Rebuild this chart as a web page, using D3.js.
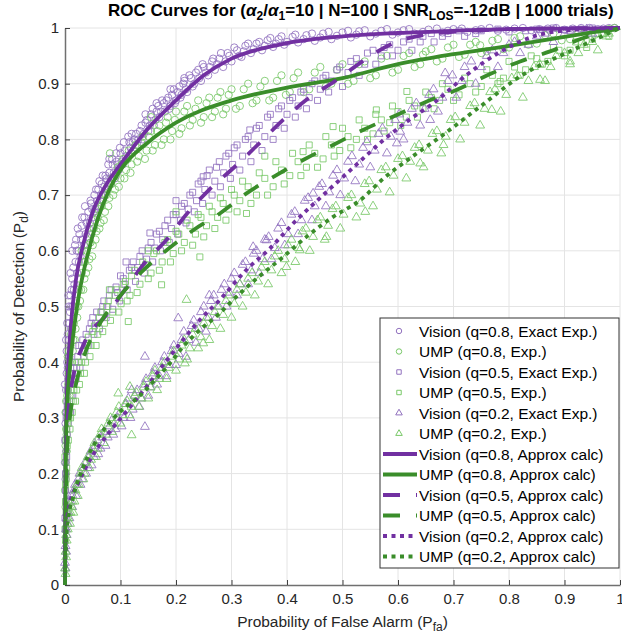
<!DOCTYPE html>
<html>
<head>
<meta charset="utf-8">
<script src="https://cdn.jsdelivr.net/npm/d3@7"></script>
<style>
  body { margin: 0; background: #fff; }
  text { font-family: "Liberation Sans", Arial, Helvetica, sans-serif; }
</style>
</head>
<body>
<div id="chart"></div>
<script>
// ---- data ----
var xTicks = [0, 0.1, 0.2, 0.3, 0.4, 0.5, 0.6, 0.7, 0.8, 0.9, 1];
var yTicks = [0, 0.1, 0.2, 0.3, 0.4, 0.5, 0.6, 0.7, 0.8, 0.9, 1];

// experiments, [Pfa, Pd]
var visionQ8Exp = [[0.001,0.19],[0.002,0.24],[0.001,0.29],[0.003,0.31],[0.002,0.35],[0.004,0.33],[0.005,0.39],[0.003,0.42],[0.006,0.37],[0.007,0.44],[0.004,0.47],[0.008,0.41],[0.009,0.49],[0.006,0.52],[0.011,0.46],[0.012,0.53],[0.010,0.56],[0.014,0.50],[0.015,0.57],[0.017,0.54],[0.013,0.60],[0.019,0.58],[0.02,0.62],[0.022,0.56],
  [0.024,0.60],[0.026,0.63],[0.028,0.59],[0.03,0.645],[0.032,0.62],[0.035,0.66],[0.037,0.63],[0.04,0.625],[0.042,0.67],[0.045,0.65],[0.047,0.685],[0.05,0.66],[0.053,0.70],[0.055,0.675],[0.058,0.69],[0.06,0.71],[0.063,0.68],[0.066,0.72],[0.07,0.70],[0.073,0.735],[0.076,0.71],[0.08,0.74],[0.083,0.72],[0.086,0.755],[0.09,0.73],[0.093,0.76],[0.097,0.745],[0.1,0.775],[0.104,0.755],[0.108,0.78],[0.112,0.765],[0.116,0.795],[0.12,0.775],[0.125,0.80],[0.13,0.79],[0.135,0.815],[0.14,0.80],[0.145,0.83],[0.15,0.815],[0.155,0.845],[0.16,0.825],[0.165,0.85],[0.17,0.84],[0.175,0.87],[0.18,0.85],[0.186,0.875],[0.19,0.86],[0.196,0.89],[0.2,0.87],[0.206,0.895],[0.21,0.88],[0.215,0.905],[0.22,0.885],[0.227,0.91],[0.233,0.9],[0.24,0.925],[0.245,0.905],[0.25,0.93],[0.258,0.915],[0.265,0.94],[0.27,0.925],[0.278,0.945],[0.285,0.93],[0.293,0.955],[0.3,0.94],[0.31,0.96],[0.318,0.948],[0.325,0.968],[0.335,0.955],[0.345,0.972],[0.355,0.96],[0.365,0.978],[0.375,0.966],[0.385,0.98],[0.395,0.97],[0.41,0.984],[0.42,0.974],[0.435,0.987],[0.45,0.977],[0.465,0.99],[0.48,0.98],[0.5,0.992],[0.515,0.983],[0.53,0.994],[0.55,0.985],[0.57,0.995],[0.59,0.988],[0.61,0.996],[0.63,0.99],[0.655,0.997],[0.68,0.992],[0.7,0.998],[0.725,0.993],[0.75,0.998],[0.78,0.995],[0.81,0.999],[0.84,0.996],[0.87,0.999],[0.9,0.997],[0.93,1.0],[0.96,0.998],[0.98,1.0],
  [0.19,0.89],[0.215,0.91],[0.165,0.865],[0.145,0.845],[0.12,0.81],[0.08,0.765],
  [0.0,0.22],[0.001,0.26],[0.002,0.31],[0.0,0.36],[0.003,0.38],[0.002,0.44],[0.004,0.40],[0.005,0.45],[0.007,0.5],[0.008,0.47],[0.01,0.52],[0.011,0.5],[0.013,0.55],[0.016,0.53],[0.018,0.61],[0.021,0.6],[0.023,0.64],[0.025,0.58],[0.029,0.62],[0.031,0.66],[0.034,0.61],[0.036,0.68],[0.039,0.65],[0.043,0.64],[0.046,0.69],[0.049,0.675],[0.052,0.67],[0.056,0.71],[0.059,0.68],[0.062,0.725],[0.065,0.7],[0.068,0.735],[0.071,0.715],[0.075,0.73],[0.078,0.755],[0.082,0.73],[0.085,0.765],[0.088,0.74],[0.092,0.775],[0.095,0.755],[0.099,0.785],[0.102,0.76],[0.106,0.795],[0.11,0.77],[0.114,0.805],[0.118,0.785],[0.122,0.795],[0.128,0.81],[0.132,0.8],[0.138,0.825],[0.142,0.81],[0.148,0.835],[0.153,0.825],[0.158,0.855],[0.163,0.835],[0.168,0.86],[0.173,0.85],[0.178,0.865],[0.183,0.87],[0.188,0.855],[0.193,0.88],[0.198,0.865],[0.203,0.885],[0.208,0.875],[0.213,0.9],[0.218,0.89],[0.224,0.915],[0.23,0.895],[0.236,0.92],[0.242,0.91],[0.248,0.935],[0.254,0.92],[0.261,0.93],[0.267,0.945],[0.274,0.935],[0.281,0.955],[0.289,0.94],[0.296,0.95],[0.305,0.965],[0.314,0.95],[0.322,0.958],[0.33,0.972],[0.34,0.962],[0.35,0.975],[0.36,0.968],[0.37,0.982],[0.38,0.972],[0.39,0.985],[0.4,0.975],[0.415,0.988],[0.43,0.98],[0.445,0.99],[0.46,0.983],[0.475,0.993],[0.49,0.986],[0.51,0.995],[0.525,0.988],[0.54,0.996],[0.56,0.99],[0.58,0.998],[0.6,0.992],[0.62,0.998],[0.645,0.993],[0.67,0.999],[0.69,0.995],[0.715,0.999],[0.74,0.996],[0.765,1.0],[0.795,0.997],[0.825,1.0],[0.855,0.998],[0.885,1.0],[0.915,0.999],[0.945,1.0],[0.97,0.999],[0.99,1.0]];

var umpQ8Exp = [[0.001,0.14],[0.002,0.2],[0.001,0.25],[0.003,0.27],[0.004,0.3],[0.002,0.33],[0.005,0.35],[0.006,0.32],[0.007,0.38],[0.005,0.41],[0.009,0.37],[0.01,0.43],[0.012,0.40],[0.013,0.46],[0.015,0.44],[0.017,0.49],[0.019,0.46],[0.02,0.51],[0.022,0.48],[0.025,0.53],[0.027,0.51],[0.03,0.56],[0.033,0.53],[0.036,0.58],[0.038,0.56],[0.041,0.61],[0.044,0.585],[0.047,0.63],[0.05,0.61],[0.053,0.655],[0.057,0.635],[0.06,0.675],[0.064,0.65],[0.068,0.69],[0.072,0.67],[0.076,0.715],[0.08,0.695],[0.085,0.73],[0.09,0.71],[0.095,0.75],[0.1,0.73],[0.105,0.765],[0.11,0.745],[0.115,0.78],[0.12,0.755],[0.127,0.79],[0.133,0.77],[0.14,0.805],[0.147,0.78],[0.155,0.815],[0.162,0.79],[0.17,0.825],[0.178,0.8],[0.185,0.84],[0.193,0.815],[0.2,0.85],[0.21,0.82],[0.22,0.86],[0.23,0.835],[0.24,0.87],[0.25,0.84],[0.26,0.875],[0.27,0.85],[0.28,0.885],[0.29,0.855],[0.3,0.89],[0.315,0.86],[0.33,0.9],[0.345,0.87],[0.36,0.905],[0.375,0.875],[0.39,0.915],[0.405,0.885],[0.42,0.92],[0.44,0.89],[0.46,0.93],[0.48,0.9],[0.5,0.935],[0.52,0.905],[0.54,0.94],[0.56,0.915],[0.58,0.95],[0.6,0.925],[0.62,0.955],[0.64,0.935],[0.66,0.962],[0.68,0.945],[0.7,0.97],[0.72,0.952],[0.74,0.975],[0.76,0.958],[0.78,0.98],[0.8,0.965],[0.82,0.985],[0.85,0.972],[0.88,0.99],[0.91,0.98],[0.94,0.995],[0.97,0.99],[0.99,1.0],
  [0.081,0.775],[0.03,0.6],[0.155,0.84],[0.645,0.952],[0.748,0.969],
  [0.0,0.17],[0.001,0.22],[0.002,0.28],[0.003,0.24],[0.001,0.31],[0.004,0.34],[0.006,0.36],[0.008,0.34],[0.007,0.42],[0.009,0.4],[0.011,0.45],[0.014,0.42],[0.016,0.47],[0.018,0.44],[0.021,0.5],[0.024,0.5],[0.026,0.55],[0.029,0.53],[0.032,0.58],[0.035,0.55],[0.039,0.6],[0.042,0.57],[0.046,0.615],[0.049,0.59],[0.052,0.64],[0.055,0.62],[0.059,0.66],[0.062,0.64],[0.066,0.68],[0.07,0.655],[0.074,0.7],[0.078,0.68],[0.083,0.72],[0.087,0.7],[0.092,0.735],[0.097,0.715],[0.102,0.755],[0.107,0.73],[0.113,0.765],[0.118,0.74],[0.124,0.78],[0.13,0.76],[0.137,0.795],[0.144,0.765],[0.151,0.805],[0.158,0.78],[0.166,0.815],[0.174,0.79],[0.182,0.83],[0.19,0.8],[0.198,0.835],[0.206,0.81],[0.215,0.85],[0.225,0.825],[0.235,0.855],[0.245,0.83],[0.255,0.865],[0.265,0.84],[0.275,0.875],[0.285,0.845],[0.295,0.88],[0.308,0.855],[0.322,0.89],[0.338,0.865],[0.352,0.895],[0.368,0.87],[0.382,0.905],[0.398,0.88],[0.412,0.91],[0.43,0.885],[0.45,0.92],[0.47,0.895],[0.49,0.925],[0.51,0.9],[0.53,0.935],[0.55,0.91],[0.57,0.945],[0.59,0.92],[0.61,0.95],[0.63,0.93],[0.65,0.958],[0.67,0.94],[0.69,0.965],[0.71,0.948],[0.73,0.97],[0.75,0.955],[0.77,0.977],[0.79,0.962],[0.81,0.982],[0.835,0.97],[0.865,0.987],[0.895,0.978],[0.925,0.993],[0.955,0.988],[0.98,0.998]];

var visionQ5Exp = [[0.001,0.1],[0.002,0.15],[0.001,0.2],[0.003,0.23],[0.004,0.27],[0.002,0.3],[0.006,0.29],[0.008,0.33],[0.005,0.35],[0.01,0.31],[0.012,0.36],[0.014,0.34],[0.016,0.39],[0.02,0.37],[0.023,0.41],[0.027,0.39],[0.03,0.43],[0.034,0.41],[0.038,0.45],[0.042,0.43],[0.047,0.47],[0.052,0.45],[0.057,0.49],[0.062,0.46],[0.068,0.5],[0.074,0.48],[0.08,0.52],[0.086,0.495],[0.092,0.535],[0.098,0.51],[0.105,0.55],[0.112,0.53],[0.12,0.57],[0.127,0.545],[0.135,0.59],[0.143,0.56],[0.15,0.605],[0.158,0.58],[0.165,0.63],[0.172,0.6],[0.18,0.645],[0.188,0.615],[0.195,0.665],[0.203,0.63],[0.21,0.68],[0.218,0.65],[0.225,0.7],[0.233,0.67],[0.24,0.72],[0.248,0.685],[0.256,0.735],[0.265,0.7],[0.273,0.75],[0.28,0.715],[0.29,0.77],[0.298,0.73],[0.305,0.785],[0.315,0.745],[0.325,0.8],[0.335,0.76],[0.345,0.82],[0.355,0.78],[0.365,0.84],[0.375,0.8],[0.385,0.855],[0.395,0.82],[0.405,0.87],[0.415,0.84],[0.425,0.885],[0.435,0.855],[0.445,0.9],[0.455,0.87],[0.465,0.91],[0.475,0.885],[0.49,0.925],[0.5,0.895],[0.515,0.94],[0.53,0.915],[0.545,0.955],[0.56,0.935],[0.575,0.965],[0.59,0.95],[0.61,0.975],[0.625,0.96],[0.645,0.985],[0.665,0.975],[0.69,0.99],[0.72,0.985],[0.75,0.995],[0.8,0.993],[0.85,0.998],[0.9,0.997],[0.95,1.0],
  [0.153,0.632],[0.249,0.733],[0.333,0.817],[0.2,0.69],[0.11,0.58],
  [0.0,0.12],[0.001,0.17],[0.002,0.22],[0.0,0.26],[0.003,0.28],[0.004,0.32],[0.007,0.31],[0.009,0.36],[0.011,0.34],[0.013,0.38],[0.018,0.4],[0.021,0.39],[0.025,0.43],[0.032,0.44],[0.036,0.42],[0.044,0.46],[0.05,0.48],[0.055,0.47],[0.065,0.49],[0.07,0.51],[0.077,0.5],[0.083,0.53],[0.095,0.525],[0.1,0.555],[0.108,0.54],[0.116,0.565],[0.123,0.58],[0.131,0.57],[0.139,0.6],[0.147,0.585],[0.155,0.615],[0.162,0.605],[0.17,0.635],[0.176,0.62],[0.185,0.655],[0.192,0.64],[0.2,0.665],[0.208,0.655],[0.215,0.685],[0.222,0.675],[0.23,0.705],[0.237,0.69],[0.245,0.725],[0.252,0.71],[0.26,0.745],[0.27,0.725],[0.278,0.76],[0.286,0.74],[0.295,0.775],[0.302,0.755],[0.31,0.79],[0.32,0.77],[0.33,0.805],[0.34,0.79],[0.35,0.825],[0.36,0.805],[0.37,0.845],[0.38,0.825],[0.39,0.86],[0.4,0.845],[0.41,0.875],[0.42,0.86],[0.43,0.89],[0.44,0.875],[0.45,0.905],[0.46,0.89],[0.47,0.915],[0.48,0.905],[0.495,0.93],[0.51,0.92],[0.525,0.945],[0.54,0.935],[0.555,0.96],[0.57,0.95],[0.585,0.97],[0.6,0.96],[0.62,0.98],[0.64,0.975],[0.66,0.99],[0.68,0.985],[0.71,0.995],[0.74,0.99],[0.78,0.998],[0.83,0.995],[0.88,1.0],[0.93,0.998]];

var umpQ5Exp = [[0.001,0.08],[0.002,0.13],[0.001,0.18],[0.003,0.21],[0.004,0.25],[0.003,0.28],[0.006,0.26],[0.007,0.3],[0.009,0.28],[0.011,0.33],[0.013,0.31],[0.016,0.35],[0.019,0.33],[0.022,0.38],[0.026,0.36],[0.03,0.4],[0.035,0.38],[0.04,0.43],[0.045,0.41],[0.05,0.455],[0.056,0.43],[0.062,0.48],[0.068,0.455],[0.075,0.5],[0.082,0.475],[0.09,0.52],[0.097,0.49],[0.105,0.54],[0.112,0.51],[0.12,0.555],[0.13,0.525],[0.14,0.58],[0.15,0.55],[0.16,0.595],[0.17,0.565],[0.18,0.615],[0.19,0.58],[0.2,0.635],[0.21,0.6],[0.22,0.655],[0.23,0.61],[0.24,0.665],[0.25,0.625],[0.26,0.68],[0.27,0.64],[0.28,0.695],[0.29,0.655],[0.3,0.71],[0.31,0.67],[0.32,0.725],[0.335,0.685],[0.35,0.74],[0.365,0.7],[0.38,0.76],[0.395,0.72],[0.41,0.775],[0.425,0.735],[0.44,0.79],[0.455,0.75],[0.47,0.805],[0.485,0.77],[0.5,0.82],[0.515,0.785],[0.53,0.835],[0.545,0.8],[0.56,0.845],[0.575,0.815],[0.59,0.86],[0.605,0.825],[0.62,0.87],[0.635,0.84],[0.65,0.885],[0.665,0.855],[0.68,0.9],[0.7,0.87],[0.72,0.91],[0.74,0.885],[0.76,0.925],[0.78,0.9],[0.8,0.94],[0.82,0.915],[0.84,0.95],[0.86,0.935],[0.88,0.965],[0.9,0.95],[0.92,0.975],[0.94,0.965],[0.96,0.99],[0.98,0.985],
  [0.243,0.589],[0.174,0.539],[0.114,0.473],[0.327,0.667],[0.616,0.886],[0.483,0.823],[0.429,0.778],[0.784,0.904],[0.561,0.853],[0.15,0.6],[0.08,0.53],[0.2,0.67],[0.36,0.77],
  [0.0,0.1],[0.001,0.15],[0.002,0.19],[0.0,0.23],[0.002,0.26],[0.005,0.29],[0.008,0.32],[0.01,0.3],[0.012,0.35],[0.015,0.33],[0.018,0.37],[0.021,0.35],[0.024,0.4],[0.028,0.38],[0.032,0.42],[0.037,0.4],[0.042,0.445],[0.047,0.43],[0.053,0.465],[0.059,0.45],[0.065,0.49],[0.071,0.47],[0.078,0.51],[0.086,0.49],[0.093,0.53],[0.101,0.505],[0.109,0.545],[0.117,0.52],[0.125,0.565],[0.135,0.54],[0.145,0.575],[0.155,0.56],[0.165,0.6],[0.175,0.58],[0.185,0.62],[0.195,0.595],[0.205,0.63],[0.215,0.615],[0.225,0.645],[0.235,0.63],[0.245,0.66],[0.255,0.645],[0.265,0.67],[0.275,0.66],[0.285,0.685],[0.295,0.675],[0.305,0.7],[0.315,0.69],[0.33,0.715],[0.345,0.7],[0.36,0.73],[0.375,0.715],[0.39,0.745],[0.405,0.735],[0.42,0.76],[0.435,0.75],[0.45,0.775],[0.465,0.765],[0.48,0.79],[0.495,0.78],[0.51,0.805],[0.525,0.8],[0.54,0.82],[0.555,0.81],[0.57,0.835],[0.585,0.83],[0.6,0.85],[0.615,0.84],[0.63,0.86],[0.645,0.855],[0.66,0.875],[0.675,0.87],[0.69,0.89],[0.71,0.88],[0.73,0.9],[0.75,0.895],[0.77,0.915],[0.79,0.91],[0.81,0.93],[0.83,0.925],[0.85,0.945],[0.87,0.94],[0.89,0.96],[0.91,0.96],[0.93,0.975],[0.95,0.98],[0.97,0.99]];

var visionQ2Exp = [[0.001,0.03],[0.002,0.06],[0.003,0.09],[0.005,0.11],[0.004,0.13],[0.008,0.12],[0.01,0.15],[0.013,0.14],[0.016,0.17],[0.02,0.16],[0.024,0.19],[0.028,0.18],[0.033,0.21],[0.038,0.2],[0.043,0.23],[0.048,0.215],[0.055,0.25],[0.06,0.235],[0.067,0.265],[0.073,0.25],[0.08,0.285],[0.087,0.27],[0.095,0.3],[0.102,0.285],[0.11,0.325],[0.118,0.3],[0.126,0.34],[0.134,0.32],[0.142,0.36],[0.15,0.34],[0.158,0.38],[0.166,0.36],[0.175,0.4],[0.183,0.375],[0.192,0.42],[0.2,0.395],[0.21,0.44],[0.218,0.41],[0.228,0.465],[0.236,0.435],[0.245,0.49],[0.254,0.455],[0.263,0.51],[0.272,0.48],[0.282,0.53],[0.291,0.5],[0.3,0.55],[0.31,0.52],[0.32,0.575],[0.33,0.54],[0.34,0.595],[0.35,0.56],[0.36,0.62],[0.372,0.585],[0.384,0.64],[0.396,0.61],[0.408,0.665],[0.42,0.63],[0.432,0.69],[0.445,0.655],[0.458,0.715],[0.47,0.68],[0.483,0.735],[0.496,0.7],[0.51,0.76],[0.523,0.725],[0.537,0.785],[0.55,0.75],[0.565,0.81],[0.58,0.775],[0.595,0.835],[0.61,0.8],[0.625,0.855],[0.64,0.825],[0.656,0.88],[0.672,0.85],[0.69,0.905],[0.705,0.875],[0.72,0.93],[0.74,0.9],[0.76,0.95],[0.78,0.93],[0.8,0.97],[0.82,0.955],[0.85,0.985],[0.88,0.975],[0.91,0.995],[0.95,0.99],
  [0.204,0.479],[0.144,0.41],[0.144,0.284],[0.339,0.607],[0.363,0.619],[0.447,0.703],[0.685,0.919],[0.658,0.835],[0.604,0.814],[0.598,0.793],[0.26,0.52],[0.12,0.35],
  [0.0,0.04],[0.001,0.07],[0.002,0.1],[0.003,0.12],[0.006,0.13],[0.007,0.15],[0.011,0.16],[0.014,0.16],[0.018,0.18],[0.022,0.18],[0.026,0.2],[0.031,0.19],[0.036,0.22],[0.041,0.21],[0.046,0.24],[0.052,0.23],[0.058,0.26],[0.064,0.245],[0.07,0.275],[0.077,0.265],[0.084,0.295],[0.091,0.28],[0.099,0.31],[0.106,0.3],[0.114,0.335],[0.122,0.315],[0.13,0.35],[0.138,0.335],[0.146,0.37],[0.154,0.355],[0.162,0.39],[0.17,0.375],[0.179,0.41],[0.188,0.395],[0.196,0.43],[0.205,0.415],[0.214,0.455],[0.223,0.44],[0.232,0.475],[0.241,0.46],[0.25,0.5],[0.259,0.48],[0.268,0.52],[0.277,0.5],[0.287,0.54],[0.296,0.525],[0.305,0.56],[0.315,0.54],[0.325,0.58],[0.335,0.565],[0.345,0.6],[0.356,0.585],[0.367,0.625],[0.378,0.605],[0.39,0.65],[0.402,0.63],[0.414,0.67],[0.426,0.655],[0.438,0.695],[0.45,0.68],[0.463,0.72],[0.476,0.705],[0.49,0.745],[0.503,0.73],[0.517,0.77],[0.53,0.755],[0.544,0.795],[0.558,0.78],[0.572,0.82],[0.587,0.805],[0.602,0.845],[0.617,0.83],[0.633,0.865],[0.648,0.855],[0.664,0.89],[0.68,0.875],[0.698,0.915],[0.715,0.905],[0.732,0.94],[0.75,0.93],[0.77,0.96],[0.79,0.955],[0.81,0.975],[0.835,0.97],[0.865,0.99],[0.9,0.99],[0.94,0.998]];

var umpQ2Exp = [[0.001,0.02],[0.002,0.05],[0.003,0.08],[0.005,0.1],[0.006,0.12],[0.009,0.11],[0.012,0.14],[0.015,0.13],[0.019,0.17],[0.023,0.16],[0.028,0.2],[0.033,0.19],[0.038,0.22],[0.044,0.21],[0.05,0.245],[0.056,0.23],[0.063,0.27],[0.07,0.255],[0.078,0.29],[0.085,0.275],[0.093,0.31],[0.1,0.29],[0.108,0.325],[0.116,0.305],[0.125,0.34],[0.133,0.32],[0.142,0.355],[0.15,0.335],[0.158,0.375],[0.166,0.35],[0.175,0.39],[0.183,0.37],[0.192,0.41],[0.2,0.385],[0.21,0.43],[0.22,0.405],[0.23,0.45],[0.24,0.425],[0.25,0.47],[0.26,0.44],[0.27,0.49],[0.28,0.46],[0.29,0.51],[0.3,0.48],[0.31,0.53],[0.32,0.5],[0.33,0.55],[0.342,0.52],[0.354,0.57],[0.366,0.54],[0.378,0.59],[0.39,0.56],[0.402,0.61],[0.415,0.58],[0.428,0.635],[0.441,0.6],[0.455,0.655],[0.468,0.62],[0.482,0.675],[0.496,0.64],[0.51,0.695],[0.525,0.66],[0.54,0.72],[0.555,0.68],[0.57,0.745],[0.585,0.705],[0.6,0.765],[0.615,0.73],[0.63,0.785],[0.646,0.75],[0.662,0.81],[0.678,0.775],[0.695,0.835],[0.712,0.8],[0.73,0.86],[0.748,0.825],[0.766,0.885],[0.785,0.85],[0.805,0.91],[0.825,0.875],[0.845,0.93],[0.865,0.905],[0.885,0.95],[0.91,0.935],[0.935,0.97],[0.96,0.96],[0.98,0.99],
  [0.219,0.512],[0.216,0.398],[0.249,0.434],[0.096,0.344],[0.117,0.356],[0.12,0.269],[0.399,0.571],[0.423,0.601],[0.471,0.625],[0.541,0.67],[0.682,0.79],[0.64,0.757],[0.769,0.853],[0.91,0.94],[0.856,0.907],
  [0.0,0.03],[0.001,0.06],[0.002,0.09],[0.004,0.11],[0.007,0.13],[0.01,0.13],[0.013,0.15],[0.017,0.15],[0.021,0.18],[0.025,0.18],[0.03,0.21],[0.035,0.2],[0.041,0.23],[0.047,0.225],[0.053,0.255],[0.059,0.245],[0.066,0.28],[0.074,0.27],[0.082,0.3],[0.089,0.29],[0.097,0.32],[0.104,0.305],[0.112,0.33],[0.12,0.32],[0.129,0.345],[0.137,0.335],[0.146,0.365],[0.154,0.355],[0.162,0.385],[0.17,0.37],[0.179,0.4],[0.187,0.39],[0.196,0.42],[0.205,0.405],[0.215,0.44],[0.225,0.425],[0.235,0.46],[0.245,0.445],[0.255,0.48],[0.265,0.465],[0.275,0.5],[0.285,0.485],[0.295,0.52],[0.305,0.505],[0.315,0.54],[0.326,0.525],[0.337,0.56],[0.348,0.545],[0.36,0.58],[0.372,0.565],[0.384,0.6],[0.396,0.585],[0.408,0.62],[0.421,0.605],[0.434,0.64],[0.447,0.625],[0.46,0.66],[0.474,0.645],[0.488,0.68],[0.502,0.665],[0.516,0.7],[0.532,0.685],[0.548,0.725],[0.562,0.71],[0.578,0.75],[0.592,0.735],[0.608,0.77],[0.622,0.76],[0.638,0.79],[0.654,0.78],[0.67,0.815],[0.686,0.805],[0.703,0.84],[0.72,0.83],[0.738,0.865],[0.756,0.855],[0.775,0.89],[0.795,0.88],[0.815,0.915],[0.835,0.905],[0.855,0.935],[0.875,0.93],[0.9,0.955],[0.925,0.955],[0.95,0.975],[0.975,0.985]];

// approximate calculations
var visionQ8Calc = [[0,0],[0.0005,0.15],[0.002,0.28],[0.005,0.38],[0.01,0.46],[0.02,0.55],[0.03,0.60],[0.05,0.67],[0.075,0.72],[0.1,0.755],[0.15,0.82],[0.2,0.87],[0.25,0.915],[0.3,0.945],[0.35,0.962],[0.4,0.973],[0.5,0.985],[0.6,0.991],[0.7,0.995],[0.8,0.998],[0.9,0.999],[1,1]];
var umpQ8Calc = [[0,0],[0.001,0.2],[0.003,0.3],[0.008,0.38],[0.015,0.45],[0.025,0.52],[0.04,0.59],[0.06,0.66],[0.08,0.71],[0.1,0.745],[0.15,0.795],[0.2,0.83],[0.3,0.87],[0.4,0.893],[0.5,0.91],[0.6,0.935],[0.7,0.953],[0.8,0.968],[0.9,0.984],[1,1]];
var visionQ5Calc = [[0,0],[0.001,0.12],[0.003,0.26],[0.008,0.33],[0.015,0.375],[0.035,0.435],[0.075,0.485],[0.11,0.533],[0.145,0.58],[0.183,0.62],[0.22,0.667],[0.26,0.71],[0.305,0.75],[0.35,0.793],[0.393,0.835],[0.435,0.871],[0.49,0.907],[0.54,0.943],[0.59,0.972],[0.65,0.988],[0.75,0.996],[0.85,0.999],[1,1]];
var umpQ5Calc = [[0,0],[0.001,0.1],[0.004,0.25],[0.01,0.31],[0.018,0.353],[0.036,0.416],[0.063,0.47],[0.1,0.52],[0.138,0.562],[0.183,0.601],[0.231,0.637],[0.279,0.667],[0.327,0.703],[0.381,0.736],[0.429,0.763],[0.483,0.79],[0.537,0.817],[0.598,0.844],[0.652,0.868],[0.706,0.889],[0.763,0.916],[0.82,0.94],[0.874,0.958],[0.934,0.982],[1,1]];
var visionQ2Calc = [[0,0],[0.001,0.06],[0.003,0.11],[0.009,0.147],[0.024,0.183],[0.048,0.23],[0.078,0.272],[0.111,0.312],[0.15,0.36],[0.198,0.422],[0.243,0.476],[0.279,0.512],[0.327,0.566],[0.369,0.604],[0.411,0.649],[0.465,0.70],[0.52,0.75],[0.574,0.799],[0.62,0.835],[0.664,0.865],[0.724,0.916],[0.784,0.957],[0.844,0.985],[0.92,0.997],[1,1]];
var umpQ2Calc = [[0,0],[0.001,0.05],[0.003,0.1],[0.015,0.159],[0.033,0.212],[0.057,0.26],[0.096,0.308],[0.135,0.34],[0.162,0.368],[0.189,0.398],[0.213,0.428],[0.243,0.458],[0.279,0.488],[0.303,0.512],[0.345,0.55],[0.387,0.584],[0.435,0.625],[0.483,0.661],[0.532,0.691],[0.574,0.73],[0.62,0.765],[0.67,0.80],[0.748,0.859],[0.82,0.913],[0.916,0.961],[1,1]];

var legendLabels = [
  "Vision (q=0.8, Exact Exp.)", "UMP (q=0.8, Exp.)",
  "Vision (q=0.5, Exact Exp.)", "UMP (q=0.5, Exp.)",
  "Vision (q=0.2, Exact Exp.)", "UMP (q=0.2, Exp.)",
  "Vision (q=0.8, Approx calc)", "UMP (q=0.8, Approx calc)",
  "Vision (q=0.5, Approx calc)", "UMP (q=0.5, Approx calc)",
  "Vision (q=0.2, Approx calc)", "UMP (q=0.2, Approx calc)"
];

// ---- styles ----
var purpleLine = "#7130a1", greenLine = "#3a8d2a";
var purpleMark = "#9272bf", greenMark = "#78c867";

var width = 622, height = 641;
var plotLeft = 65, plotRight = 620, plotTop = 28, plotBottom = 585;

var svg = d3.select("#chart").append("svg")
    .attr("width", width)
    .attr("height", height);

var x = d3.scaleLinear().domain([0, 1]).range([plotLeft, plotRight]);
var y = d3.scaleLinear().domain([0, 1]).range([plotBottom, plotTop]);

// grid
svg.append("g").selectAll("line")
    .data(xTicks.slice(1))
    .enter().append("line")
    .attr("x1", d => x(d)).attr("x2", d => x(d))
    .attr("y1", plotTop).attr("y2", plotBottom)
    .attr("stroke", "#e4e4e4").attr("stroke-width", 1);
svg.append("g").selectAll("line")
    .data(yTicks.slice(1))
    .enter().append("line")
    .attr("x1", plotLeft).attr("x2", plotRight)
    .attr("y1", d => y(d)).attr("y2", d => y(d))
    .attr("stroke", "#e4e4e4").attr("stroke-width", 1);

// axes
var xAxis = d3.axisBottom(x).tickValues(xTicks).tickFormat(d => String(d))
    .tickSizeInner(-5).tickSizeOuter(0).tickPadding(8);
var yAxis = d3.axisLeft(y).tickValues(yTicks).tickFormat(d => String(d))
    .tickSizeInner(-5).tickSizeOuter(0).tickPadding(6);

var gx = svg.append("g").attr("transform", "translate(0," + plotBottom + ")").call(xAxis);
var gy = svg.append("g").attr("transform", "translate(" + plotLeft + ",0)").call(yAxis);
[gx, gy].forEach(function (g) {
    g.select(".domain").attr("stroke", "#707070").attr("stroke-width", 1.5);
    g.selectAll(".tick line").attr("stroke", "#404040");
    g.selectAll(".tick text").attr("fill", "#262626")
        .style("font-size", "15px")
        .style("font-family", "'Liberation Sans', Arial, sans-serif");
});

// experiment scatter
var scatterSeries = [
    { data: visionQ8Exp, sym: d3.symbolCircle, size: 42, color: purpleMark },
    { data: umpQ8Exp, sym: d3.symbolCircle, size: 42, color: greenMark },
    { data: visionQ5Exp, sym: d3.symbolSquare, size: 36, color: purpleMark },
    { data: umpQ5Exp, sym: d3.symbolSquare, size: 36, color: greenMark },
    { data: visionQ2Exp, sym: d3.symbolTriangle, size: 34, color: purpleMark },
    { data: umpQ2Exp, sym: d3.symbolTriangle, size: 34, color: greenMark }
];

scatterSeries.forEach(function (s) {
    svg.append("g").selectAll("path")
        .data(s.data)
        .enter().append("path")
        .attr("d", d3.symbol().type(s.sym).size(s.size))
        .attr("transform", d => "translate(" + x(d[0]) + "," + y(d[1]) + ")")
        .attr("fill", "none")
        .attr("stroke", s.color)
        .attr("stroke-width", 1)
        .attr("stroke-opacity", 0.85);
});

// approx calc lines
var lineSeries = [
    { data: visionQ8Calc, color: purpleLine, dash: null },
    { data: umpQ8Calc, color: greenLine, dash: null },
    { data: visionQ5Calc, color: purpleLine, dash: "17,16" },
    { data: umpQ5Calc, color: greenLine, dash: "17,16" },
    { data: visionQ2Calc, color: purpleLine, dash: "4,4.5" },
    { data: umpQ2Calc, color: greenLine, dash: "4,4.5" }
];

var line = d3.line()
    .x(d => x(d[0]))
    .y(d => y(d[1]))
    .curve(d3.curveMonotoneX);

lineSeries.forEach(function (s) {
    svg.append("path")
        .datum(s.data)
        .attr("d", line)
        .attr("fill", "none")
        .attr("stroke", s.color)
        .attr("stroke-width", 3.8)
        .attr("stroke-dasharray", s.dash);
});

// title
var title = svg.append("text")
    .attr("x", 108).attr("y", 16)
    .attr("fill", "#000")
    .style("font-size", "17px").style("font-weight", "bold");
title.append("tspan").text("ROC Curves for (");
title.append("tspan").text("\u03b1").style("font-style", "italic");
title.append("tspan").text("2").attr("dy", 4).style("font-size", "12px");
title.append("tspan").text("/").attr("dy", -4);
title.append("tspan").text("\u03b1").style("font-style", "italic");
title.append("tspan").text("1").attr("dy", 4).style("font-size", "12px");
title.append("tspan").text("=10 | N=100 | SNR").attr("dy", -4);
title.append("tspan").text("LOS").attr("dy", 4).style("font-size", "12px");
title.append("tspan").text("=-12dB | 1000 trials)").attr("dy", -4);

// axis labels
var xl = svg.append("text")
    .attr("x", (plotLeft + plotRight) / 2).attr("y", 627)
    .attr("text-anchor", "middle").attr("fill", "#262626")
    .style("font-size", "15.5px");
xl.append("tspan").text("Probability of False Alarm (P");
xl.append("tspan").text("fa").attr("dy", 4).style("font-size", "12px");
xl.append("tspan").text(")").attr("dy", -4);

var yl = svg.append("text")
    .attr("transform", "translate(24," + ((plotTop + plotBottom) / 2) + ") rotate(-90)")
    .attr("text-anchor", "middle").attr("fill", "#262626")
    .style("font-size", "15.5px");
yl.append("tspan").text("Probability of Detection (P");
yl.append("tspan").text("d").attr("dy", 4).style("font-size", "12px");
yl.append("tspan").text(")").attr("dy", -4);

// legend
var lx = 380, ly = 318, lw = 239, lh = 250, rowH = 20.5;
var legend = svg.append("g");
legend.append("rect")
    .attr("x", lx).attr("y", ly).attr("width", lw).attr("height", lh)
    .attr("fill", "#fff").attr("stroke", "#333").attr("stroke-width", 1);

legendLabels.forEach(function (label, i) {
    var cy = ly + 13 + i * rowH;
    if (i < 6) {
        var s = scatterSeries[i];
        legend.append("path")
            .attr("d", d3.symbol().type(s.sym).size(s.size * 0.55))
            .attr("transform", "translate(" + (lx + 19) + "," + cy + ")")
            .attr("fill", "none").attr("stroke", s.color).attr("stroke-width", 1);
    } else {
        var ls = lineSeries[i - 6];
        legend.append("line")
            .attr("x1", lx + 3).attr("x2", lx + 37)
            .attr("y1", cy).attr("y2", cy)
            .attr("stroke", ls.color).attr("stroke-width", 3.8)
            .attr("stroke-dasharray", ls.dash);
    }
    legend.append("text")
        .attr("x", lx + 39).attr("y", cy + 5.5)
        .attr("fill", "#000")
        .style("font-size", "15.5px")
        .text(label);
});
</script>
</body>
</html>
